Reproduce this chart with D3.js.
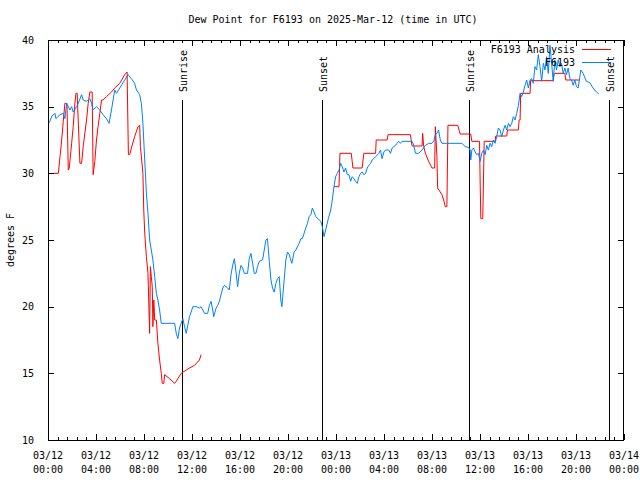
<!DOCTYPE html>
<html><head><meta charset="utf-8">
<script src="https://cdn.jsdelivr.net/npm/d3@7"></script>
<style>
body{margin:0;background:#fff;}
text{font-family:"DejaVu Sans Mono",monospace;font-size:10px;fill:#000;}
</style></head><body>
<svg id="c" width="640" height="480"></svg>
<script>
// ---- data (hours after 2025-03-12 00:00 UTC, dew point °F) ----
const obsHours = [0.11,0.33,0.58,0.66,1.0,1.27,1.41,1.55,1.83,1.97,2.10,2.38,2.52,2.80,2.93,3.21,3.49,3.63,3.76,4.04,4.32,4.59,4.87,5.09,5.29,5.56,5.71,5.98,6.39,6.67,6.95,7.22,7.37,7.64,7.78,7.91,8.06,8.20,8.33,8.47,8.61,8.74,8.89,9.03,9.16,9.30,9.44,10.41,10.55,10.69,10.82,10.96,11.10,11.24,11.38,11.52,11.65,11.79,11.93,12.07,12.35,12.62,12.76,12.90,13.04,13.31,13.45,13.59,13.73,13.81,14.01,14.14,14.28,14.42,14.56,14.70,14.84,14.97,15.11,15.25,15.39,15.53,15.67,15.80,15.94,16.08,16.22,16.36,16.63,16.77,16.91,17.05,17.19,17.33,17.46,17.60,17.88,18.02,18.16,18.29,18.44,18.58,18.71,18.85,18.99,19.13,19.27,19.40,19.49,19.68,19.82,19.96,20.10,20.32,20.51,20.65,20.93,21.07,21.20,21.34,21.48,21.62,21.76,21.90,22.03,22.17,22.31,22.73,22.86,23.00,23.14,23.36,23.56,23.69,23.83,23.97,24.11,24.25,24.39,24.52,24.66,24.80,24.94,25.08,25.22,25.35,25.49,25.63,25.77,25.91,26.05,26.18,26.32,26.47,26.60,26.74,26.88,27.01,27.15,27.30,27.57,27.71,27.84,27.99,28.13,28.40,28.54,28.68,28.96,29.09,29.23,29.37,29.51,30.34,30.48,30.62,30.89,31.17,31.45,31.72,32.00,32.14,32.28,32.41,32.55,32.69,32.83,34.49,34.77,35.04,35.18,35.23,35.32,35.46,35.60,35.73,35.87,36.01,36.15,36.29,36.43,36.56,36.70,36.84,36.98,37.12,37.26,37.39,37.53,37.67,37.81,37.95,38.09,38.23,38.37,38.51,38.64,38.78,38.92,39.06,39.20,39.34,39.47,39.61,39.75,39.89,40.03,40.17,40.31,40.44,40.58,40.72,40.86,41.00,41.14,41.28,41.42,41.55,41.69,41.83,41.97,42.10,42.24,42.38,42.52,42.66,42.79,42.93,43.07,43.21,43.35,43.49,43.63,43.76,43.90,44.04,44.18,44.32,44.40,44.59,44.87,45.15,45.42,45.70,45.90];
const obsValues = [33.8,34.3,34.5,34.1,34.4,34.5,34.1,35.25,34.75,35.0,34.6,35.0,35.25,35.9,35.5,35.4,35.6,35.25,34.75,35.0,34.75,34.4,34.1,33.75,34.75,36.25,36.0,36.4,37.0,37.4,37.1,36.75,36.25,35.9,35.25,33.75,31.0,28.5,27.0,25.0,24.25,23.5,22.25,21.0,20.5,19.75,18.75,18.75,18.75,18.0,17.6,18.4,18.75,19.1,18.5,18.0,18.6,19.25,19.6,20.0,20.0,19.9,20.0,19.75,19.5,19.5,20.1,20.4,19.75,19.25,19.9,20.1,20.4,20.9,21.4,21.6,21.5,21.4,21.25,22.4,23.1,23.6,22.6,21.5,22.5,23.1,22.9,22.5,22.5,23.6,24.0,23.25,22.5,22.5,23.0,23.4,23.5,24.25,25.0,25.1,23.4,22.0,21.4,21.1,21.75,22.1,22.25,20.5,20.0,22.0,23.5,24.1,23.9,23.25,24.1,24.25,24.75,25.1,25.1,25.5,25.9,26.25,26.75,26.9,27.4,27.1,26.75,26.4,26.0,25.25,25.75,26.6,27.25,28.0,29.0,29.75,30.0,30.25,30.75,30.5,30.1,30.4,29.9,29.9,29.4,29.75,29.6,29.4,29.25,29.75,30.0,30.1,29.9,30.0,30.4,30.6,30.75,31.0,31.1,31.25,31.5,31.75,31.1,31.6,31.75,31.75,31.5,31.9,32.1,32.25,32.4,32.25,32.4,32.4,32.1,31.5,31.5,31.75,32.1,32.25,32.25,32.4,32.9,33.0,33.25,32.5,32.25,32.25,32.0,31.95,31.75,31.0,31.75,31.9,31.6,31.4,31.5,30.9,31.5,31.75,31.4,32.1,31.75,32.25,32.0,32.5,32.25,32.75,33.4,33.25,32.75,33.25,33.6,33.25,33.75,33.5,33.75,34.25,34.0,34.5,35.1,36.0,35.75,36.1,36.6,37.0,36.4,37.0,37.1,36.75,38.0,37.75,38.9,38.0,36.9,38.25,37.75,38.75,37.5,39.6,38.25,36.9,38.5,37.75,38.5,38.0,38.25,37.5,37.9,37.4,37.9,37.1,37.0,36.6,37.0,36.5,36.4,37.25,37.75,37.5,36.9,36.8,36.4,36.1,35.95];

const anaHours1 = [0.50,0.86,1.00,1.14,1.27,1.41,1.58,1.69,1.77,1.97,2.10,2.24,2.33,2.43,2.66,2.80,2.93,3.21,3.35,3.49,3.68,3.76,3.90,4.04,4.17,4.32,4.46,4.59,4.87,5.29,5.56,5.98,6.39,6.59,6.70,6.81,6.95,7.22,7.50,7.64,7.70,7.78,7.91,7.98,8.06,8.20,8.33,8.47,8.53,8.61,8.69,8.74,8.82,8.89,9.03,9.16,9.30,9.44,9.52,9.65,9.72,10.13,10.55,10.69,10.82,11.10,11.52,11.79,12.21,12.62,12.76];
const anaValues1 = [30.0,30.0,31.25,32.5,33.9,35.25,35.25,30.25,30.4,32.25,33.5,35.25,36.0,36.0,30.75,30.75,32.0,34.0,35.25,36.1,36.1,29.9,30.9,32.5,33.5,34.5,35.5,35.5,35.75,36.1,36.4,36.75,37.4,37.6,31.4,31.4,31.9,32.75,33.5,33.6,32.0,31.25,30.0,27.25,25.5,23.75,22.5,18.0,23.0,22.25,21.5,18.5,20.5,19.0,19.0,17.25,16.0,15.0,14.25,14.25,14.9,14.6,14.25,14.4,14.6,15.0,15.25,15.4,15.6,16.0,16.4];
const anaHours2 = [23.83,24.25,24.33,25.27,25.35,25.41,26.18,26.32,27.30,27.35,28.26,28.34,30.20,30.34,31.17,31.22,31.31,31.45,31.72,32.00,32.22,32.28,32.41,32.47,32.83,32.97,33.11,33.24,33.33,34.15,34.27,34.35,35.23,35.32,35.96,36.01,36.07,36.23,36.29,36.35,37.26,37.31,38.23,38.29,39.20,39.26,39.34,39.39,40.17,40.22,42.10,42.19,43.07,43.15,44.32];
const anaValues2 = [29.0,29.0,31.5,31.5,30.9,30.4,30.4,31.5,31.5,32.5,32.5,32.9,32.9,32.05,32.05,33.0,32.0,31.5,30.9,30.4,30.4,33.5,31.25,28.9,28.4,28.0,27.5,27.5,33.6,33.6,33.2,32.95,32.95,32.4,32.4,29.5,26.6,26.6,29.5,32.4,32.4,32.8,32.8,33.25,33.25,34.0,34.0,36.0,36.0,36.95,36.95,37.5,37.5,37.0,37.0];

const sunHours = [11.17, 22.83, 35.08, 46.75];
const sunLabels = ["Sunrise","Sunset","Sunrise","Sunset"];
const yTicks = [10,15,20,25,30,35,40];
const xTickHours = [0,4,8,12,16,20,24,28,32,36,40,44,48];
const xTickDates = ["03/12","03/12","03/12","03/12","03/12","03/12","03/13","03/13","03/13","03/13","03/13","03/13","03/14"];
const xTickTimes = ["00:00","04:00","08:00","12:00","16:00","20:00","00:00","04:00","08:00","12:00","16:00","20:00","00:00"];
const seriesNames = ["F6193 Analysis","F6193"];
const seriesColors = ["#ff0000","#0080ff"];
const titleText = "Dew Point for F6193 on 2025-Mar-12 (time in UTC)";
const yLabel = "degrees F";

// ---- drawing ----
const t0 = Date.UTC(2025,2,12,0,0);
const toDate = h => new Date(t0 + h*3600e3);
const L=48, R=624, T=40, B=440;
const x = d3.scaleUtc().domain([toDate(0), toDate(48)]).range([L,R]);
const y = d3.scaleLinear().domain([10,40]).range([B,T]);
const svg = d3.select("#c");

svg.append("text").attr("x",333).attr("y",23).attr("text-anchor","middle").text(titleText);
svg.append("text").attr("transform",`translate(14,${(T+B)/2}) rotate(-90)`).attr("text-anchor","middle").text(yLabel);

const crisp = g => g.attr("shape-rendering","crispEdges");

// minor x ticks every 48 min
const minor = d3.range(0,48.001,0.8).map(toDate);
svg.append("g").attr("transform",`translate(0,${B})`).call(crisp)
  .call(d3.axisBottom(x).tickValues(minor).tickSizeInner(-3).tickSizeOuter(0).tickFormat(""))
  .call(g=>g.select(".domain").remove());
svg.append("g").attr("transform",`translate(0,${T})`).call(crisp)
  .call(d3.axisTop(x).tickValues(minor).tickSizeInner(-3).tickSizeOuter(0).tickFormat(""))
  .call(g=>g.select(".domain").remove());
// major x ticks
svg.append("g").attr("transform",`translate(0,${B})`).call(crisp)
  .call(d3.axisBottom(x).tickValues(xTickHours.map(toDate)).tickSizeInner(-6).tickSizeOuter(0).tickFormat(""))
  .call(g=>g.select(".domain").remove());
svg.append("g").attr("transform",`translate(0,${T})`).call(crisp)
  .call(d3.axisTop(x).tickValues(xTickHours.map(toDate)).tickSizeInner(-6).tickSizeOuter(0).tickFormat(""))
  .call(g=>g.select(".domain").remove());
svg.selectAll(".tick line").attr("stroke","#000");

const xl = svg.append("g");
xTickHours.forEach((h,i)=>{
  const t = xl.append("text").attr("text-anchor","middle");
  t.append("tspan").attr("x",x(toDate(h))).attr("y",459).text(xTickDates[i]);
  t.append("tspan").attr("x",x(toDate(h))).attr("y",473).text(xTickTimes[i]);
});

// y ticks
svg.append("g").attr("transform",`translate(${L},0)`).call(crisp)
  .call(d3.axisLeft(y).tickValues(yTicks).tickSizeInner(-6).tickSizeOuter(0).tickPadding(14).tickFormat(d3.format("d")))
  .call(g=>g.select(".domain").remove())
  .call(g=>g.selectAll("text").attr("font-family","DejaVu Sans Mono").attr("font-size",10).attr("fill","#000"))
  .call(g=>g.selectAll("line").attr("stroke","#000"));
svg.append("g").attr("transform",`translate(${R},0)`).call(crisp)
  .call(d3.axisRight(y).tickValues(yTicks).tickSizeInner(-6).tickSizeOuter(0).tickFormat(""))
  .call(g=>g.select(".domain").remove())
  .call(g=>g.selectAll("line").attr("stroke","#000"));

// sun lines
sunHours.forEach((h,i)=>{
  const xp = Math.round(x(toDate(h)))+0.5;
  svg.append("line").attr("x1",xp).attr("x2",xp).attr("y1",100).attr("y2",B).attr("stroke","#000").attr("shape-rendering","crispEdges");
  svg.append("text").attr("transform",`translate(${xp+4},92) rotate(-90)`).attr("text-anchor","start").text(sunLabels[i]);
});

const line = d3.line().x(d=>x(toDate(d[0]))).y(d=>y(d[1]));
const ana1 = anaHours1.map((h,i)=>[h,anaValues1[i]]);
const ana2 = anaHours2.map((h,i)=>[h,anaValues2[i]]);
const obs = obsHours.map((h,i)=>[h,obsValues[i]]);
[ana1,ana2].forEach(d=>svg.append("path").datum(d).attr("d",line).attr("fill","none").attr("stroke",seriesColors[0]).attr("stroke-width",1));
svg.append("path").datum(obs).attr("d",line).attr("fill","none").attr("stroke",seriesColors[1]).attr("stroke-width",1);

// legend
seriesNames.forEach((n,i)=>{
  const yy = 49 + i*13;
  svg.append("text").attr("x",575).attr("y",yy+4).attr("text-anchor","end").text(n);
  svg.append("line").attr("x1",582).attr("x2",611).attr("y1",yy+0.5).attr("y2",yy+0.5).attr("stroke",seriesColors[i]).attr("shape-rendering","crispEdges");
});

// frame
svg.append("rect").attr("x",L+0.5).attr("y",T+0.5).attr("width",R-L-1).attr("height",B-T).attr("fill","none").attr("stroke","#000").attr("shape-rendering","crispEdges");
</script></body></html>
